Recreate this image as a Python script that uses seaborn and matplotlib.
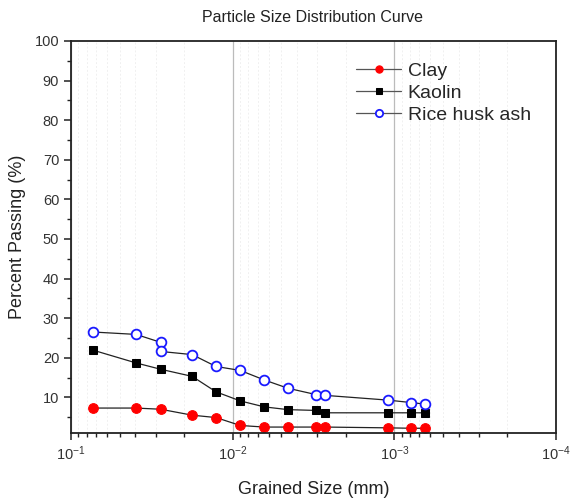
import numpy as np
import pandas as pd
import matplotlib
matplotlib.use("Agg")
import matplotlib.pyplot as plt
import seaborn as sns
from matplotlib.ticker import LogLocator, MultipleLocator, NullFormatter

size_mm = [0.0728, 0.0396, 0.0279, 0.0178, 0.01268, 0.00897, 0.00638,
           0.00455, 0.00305, 0.00267, 0.00109, 0.000793, 0.000647]
clay = [7.3, 7.3, 7.0, 5.5, 4.9, 2.9, 2.5, 2.5, 2.5, 2.5, 2.3, 2.2, 2.2]
kaolin = [21.9, 18.7, 17.1, 15.3, 11.4, 9.1, 7.6, 6.9, 6.7, 6.1, 6.1, 6.1, 6.1]
rha_size = [0.0728, 0.0396, 0.0279, 0.0279, 0.0178, 0.01268, 0.00897, 0.00638,
            0.00455, 0.00305, 0.00267, 0.00109, 0.000793, 0.000647]
rha = [26.5, 25.9, 23.9, 21.6, 20.8, 17.8, 16.8, 14.4, 12.3, 10.7, 10.5, 9.3, 8.7, 8.3]

sns.set_theme(style="white")
plt.rcParams['font.family'] = ['Liberation Sans', 'DejaVu Sans']

fig = plt.figure(figsize=(5.71, 4.99), dpi=100)
ax = fig.add_axes([71/571, 1-433/499, (556-71)/571, (433-41)/499])

df_c = pd.DataFrame({"x": size_mm, "y": clay})
df_k = pd.DataFrame({"x": size_mm, "y": kaolin})
df_r = pd.DataFrame({"x": rha_size, "y": rha})

sns.lineplot(data=df_c, x="x", y="y", ax=ax, sort=False, estimator=None,
             color="#222222", lw=0.9, marker="o", markersize=7,
             markerfacecolor="red", markeredgecolor="red", label="Clay")
sns.lineplot(data=df_k, x="x", y="y", ax=ax, sort=False, estimator=None,
             color="#222222", lw=0.9, marker="s", markersize=6,
             markerfacecolor="black", markeredgecolor="black", label="Kaolin")
sns.lineplot(data=df_r, x="x", y="y", ax=ax, sort=False, estimator=None,
             color="#222222", lw=0.9, marker="o", markersize=7,
             markerfacecolor="white", markeredgecolor="#1a1aff", markeredgewidth=1.3,
             label="Rice husk ash")

ax.set_xscale("log")
ax.set_xlim(1e-1, 1e-4)
ax.set_ylim(1, 100)
ax.xaxis.set_major_locator(LogLocator(base=10, numticks=10))
ax.xaxis.set_minor_locator(LogLocator(base=10, subs=np.arange(2, 10), numticks=20))
ax.xaxis.set_minor_formatter(NullFormatter())
ax.yaxis.set_major_locator(MultipleLocator(10))
ax.yaxis.set_minor_locator(MultipleLocator(5))
ax.set_yticks([10, 20, 30, 40, 50, 60, 70, 80, 90, 100])

ax.grid(True, which="major", axis="x", color="#bbbbbb", lw=0.9)
ax.grid(True, which="minor", axis="x", color="#f0f0f0", lw=0.7, ls=(0, (2, 2)))
ax.grid(False, axis="y")

for s in ax.spines.values():
    s.set_color("#222222")
    s.set_linewidth(1.3)

ax.tick_params(axis="both", which="major", direction="out", length=5, width=1.1,
               color="#222222", labelsize=10.5, labelcolor="#333333",
               bottom=True, left=True, top=False, right=False)
ax.tick_params(axis="both", which="minor", direction="out", length=3, width=1.0,
               color="#222222", bottom=True, left=True, top=False, right=False)

ax.set_xlabel("Grained Size (mm)", fontsize=13, color="#222222", labelpad=13)
ax.set_ylabel("Percent Passing (%)", fontsize=13, color="#222222", labelpad=6)
fig.text(313/571, 1-18/499, "Particle Size Distribution Curve", ha="center", va="center",
         fontsize=11.5, color="#222222")

leg = ax.legend(loc="upper left", bbox_to_anchor=(0.572, 0.965), frameon=False,
                fontsize=14, handlelength=2.3, handletextpad=0.35, labelspacing=0.22,
                borderaxespad=0, markerscale=0.75)
for line in leg.get_lines():
    line.set_color("#555555")

fig.savefig("out.png", dpi=100)
